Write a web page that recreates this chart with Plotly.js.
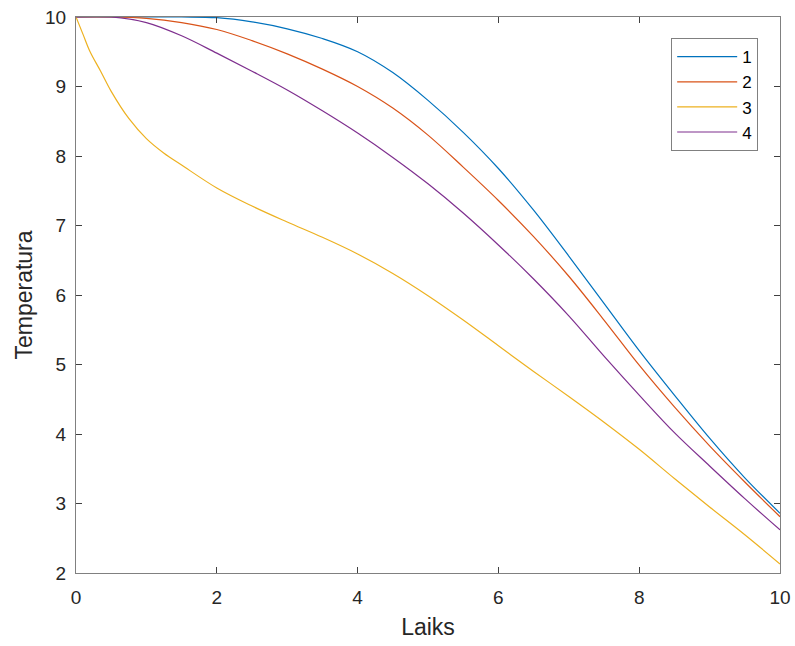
<!DOCTYPE html>
<html>
<head>
<meta charset="utf-8">
<script src="https://cdn.plot.ly/plotly-3.0.1.min.js"></script>
<style>html,body{margin:0;padding:0;background:#fff;}#chart{width:795px;height:646px;}</style>
</head>
<body>
<div id="chart"></div>
<script>
// x positions of the sampled readings
var xStd = [0,0.5,1,1.5,2,2.5,3,3.5,4,4.5,5,5.5,6,6.5,7,7.5,8,8.5,9,9.5,10];
var xYellow = [0,0.1,0.2,0.35,0.5,0.75,1,1.25,1.5,2,2.5,3,3.5,4,4.5,5,5.5,6,6.5,7,7.5,8,8.5,9,9.5,10];

// series values
var series1 = [10,10,10,10,9.99,9.93,9.83,9.69,9.5,9.2,8.8,8.34,7.82,7.22,6.56,5.88,5.2,4.56,3.94,3.37,2.86];
var series2 = [10,10,9.98,9.92,9.82,9.66,9.47,9.25,9.0,8.69,8.3,7.84,7.36,6.84,6.27,5.64,4.99,4.39,3.83,3.31,2.81];
var series3 = [10,9.75,9.5,9.22,8.93,8.54,8.25,8.04,7.87,7.54,7.28,7.05,6.83,6.59,6.31,5.99,5.64,5.27,4.9,4.54,4.17,3.78,3.36,2.95,2.55,2.13];
var series4 = [10,10,9.92,9.73,9.48,9.22,8.95,8.65,8.33,7.98,7.6,7.18,6.72,6.23,5.7,5.12,4.56,4.02,3.54,3.07,2.62];

var names = ["1","2","3","4"];
var colors = ["#0072BD","#D95319","#EDB120","#7E2F8E"];
var xTicks = [0,2,4,6,8,10];
var yTicks = [2,3,4,5,6,7,8,9,10];

var ys = [series1, series2, series3, series4];
var xs = [xStd, xStd, xYellow, xStd];
var traces = ys.map(function(y, i){
  return {x: xs[i], y: y, type: "scatter", mode: "lines", name: names[i],
          line: {color: colors[i], width: 1.2, shape: "spline", smoothing: 1}};
});

var fam = "Liberation Sans, Arial, sans-serif";
var axisCommon = {
  showline: true, linecolor: "#808080", linewidth: 1, mirror: "ticks",
  ticks: "inside", ticklen: 6, tickcolor: "#404040", tickwidth: 1,
  showgrid: false, zeroline: false,
  tickfont: {family: fam, size: 19, color: "#262626"}
};

var layout = {
  width: 795, height: 646,
  margin: {l: 76, r: 15, t: 17, b: 73},
  paper_bgcolor: "#fff", plot_bgcolor: "#fff",
  font: {family: fam, size: 17, color: "#262626"},
  showlegend: true,
  xaxis: Object.assign({}, axisCommon, {
    range: [0, 10], tickvals: xTicks, ticktext: xTicks.map(String),
    ticklabelstandoff: 7,
    title: {text: "Laiks", font: {family: fam, size: 23, color: "#262626"}, standoff: 12}
  }),
  yaxis: Object.assign({}, axisCommon, {
    range: [2, 10], tickvals: yTicks, ticktext: yTicks.map(String),
    ticklabelstandoff: 5,
    title: {text: "Temperatura", font: {family: fam, size: 23, color: "#262626"}, standoff: 6}
  }),
  legend: {
    x: 0.969, xanchor: "right", y: 0.962, yanchor: "top",
    bgcolor: "#fff", bordercolor: "#808080", borderwidth: 1,
    font: {family: fam, size: 17, color: "#000"}, itemwidth: 60
  }
};

Plotly.newPlot("chart", traces, layout, {displayModeBar: false, staticPlot: true});
</script>
</body>
</html>
